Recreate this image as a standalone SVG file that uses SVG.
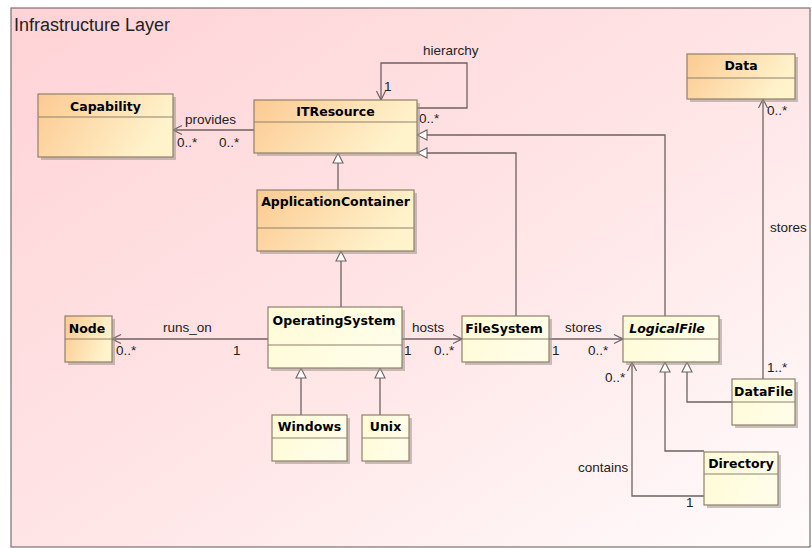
<svg xmlns="http://www.w3.org/2000/svg" width="812" height="548" viewBox="0 0 812 548">
  <defs>
    <linearGradient id="bg" x1="0" y1="0" x2="1" y2="1">
      <stop offset="0" stop-color="#ffd3d6"/>
      <stop offset="0.55" stop-color="#ffe6e7"/>
      <stop offset="1" stop-color="#fffcfc"/>
    </linearGradient>
    <linearGradient id="orange" x1="0" y1="0" x2="1" y2="0.3">
      <stop offset="0" stop-color="#fcca92"/>
      <stop offset="1" stop-color="#fff3cc"/>
    </linearGradient>
    <linearGradient id="pale" x1="0" y1="0" x2="1" y2="0.3">
      <stop offset="0" stop-color="#fffbd6"/>
      <stop offset="1" stop-color="#fffde8"/>
    </linearGradient>
    <marker id="open" viewBox="0 -6 11 12" refX="10" refY="0" markerWidth="11" markerHeight="12" markerUnits="userSpaceOnUse" orient="auto">
      <path d="M1,-4.5 L10,0 L1,4.5" fill="none" stroke="#6e6262" stroke-width="1.2"/>
    </marker>
    <marker id="tri" viewBox="0 -6 12 12" refX="11" refY="0" markerWidth="12" markerHeight="12" markerUnits="userSpaceOnUse" orient="auto">
      <path d="M1,-5 L11,0 L1,5 Z" fill="#ffffff" stroke="#6e6262" stroke-width="1.1"/>
    </marker>
  </defs>
  <style>
    .frame { fill: url(#bg); stroke: #7a7070; stroke-width: 1.2; }
    .title { font-family: "Liberation Sans", Arial, sans-serif; font-size: 18px; fill: #222; }
    .shadow { fill: #9d948c; opacity: 0.55; }
    .box-o { fill: url(#orange); stroke: #8f806c; stroke-width: 1.2; }
    .box-p { fill: url(#pale); stroke: #8f806c; stroke-width: 1.2; }
    .div { stroke: #8f806c; stroke-width: 1.2; }
    .name { font-family: "DejaVu Sans", Verdana, sans-serif; font-size: 12.5px; font-weight: bold; fill: #000; text-anchor: middle; }
    .abstract { font-style: italic; }
    .edge { fill: none; stroke: #6e6262; stroke-width: 1.3; }
    .lbl { font-family: "Liberation Sans", Arial, sans-serif; font-size: 13.5px; fill: #222; }
  </style>

  <!-- package frame -->
  <rect class="frame" x="11" y="8" width="799" height="539"/>
  <text class="title" x="14" y="31">Infrastructure Layer</text>

  <!-- connectors -->
  <g id="connectors">
    <path class="edge" d="M254,130 L173,130" marker-end="url(#open)"/>
    <path class="edge" d="M417,108 L467,108 L467,63 L381,63 L381,100" marker-end="url(#open)"/>
    <path class="edge" d="M338,190 L338,153" marker-end="url(#tri)"/>
    <path class="edge" d="M341,307 L341,251" marker-end="url(#tri)"/>
    <path class="edge" d="M301,415 L301,368" marker-end="url(#tri)"/>
    <path class="edge" d="M380,415 L380,368" marker-end="url(#tri)"/>
    <path class="edge" d="M268,339 L112,339" marker-end="url(#open)"/>
    <path class="edge" d="M402,339 L462,339" marker-end="url(#open)"/>
    <path class="edge" d="M549,339 L623,339" marker-end="url(#open)"/>
    <path class="edge" d="M516,316 L516,153 L417,153" marker-end="url(#tri)"/>
    <path class="edge" d="M665,316 L665,135 L417,135" marker-end="url(#tri)"/>
    <path class="edge" d="M732,402 L687,402 L687,362" marker-end="url(#tri)"/>
    <path class="edge" d="M704,451 L665,451 L665,362" marker-end="url(#tri)"/>
    <path class="edge" d="M704,496 L632,496 L632,362" marker-end="url(#open)"/>
    <path class="edge" d="M763,379 L763,99" marker-end="url(#open)"/>

    <text class="lbl" x="185" y="124">provides</text>
    <text class="lbl" x="177" y="147">0..*</text>
    <text class="lbl" x="219" y="147">0..*</text>
    <text class="lbl" x="423" y="55">hierarchy</text>
    <text class="lbl" x="384" y="91">1</text>
    <text class="lbl" x="419" y="123">0..*</text>
    <text class="lbl" x="163" y="332">runs_on</text>
    <text class="lbl" x="116" y="355">0..*</text>
    <text class="lbl" x="233" y="355">1</text>
    <text class="lbl" x="412" y="332">hosts</text>
    <text class="lbl" x="404" y="355">1</text>
    <text class="lbl" x="434" y="355">0..*</text>
    <text class="lbl" x="565" y="332">stores</text>
    <text class="lbl" x="552" y="355">1</text>
    <text class="lbl" x="588" y="355">0..*</text>
    <text class="lbl" x="605" y="382">0..*</text>
    <text class="lbl" x="578" y="472">contains</text>
    <text class="lbl" x="686" y="507">1</text>
    <text class="lbl" x="767" y="372">1..*</text>
    <text class="lbl" x="767" y="115">0..*</text>
    <text class="lbl" x="770" y="232">stores</text>
  </g>

  <!-- classes -->
  <g id="Capability">
    <rect class="shadow" x="41" y="97" width="135" height="63"/>
    <rect class="box-o" x="38" y="94" width="135" height="63"/>
    <line class="div" x1="38" y1="117" x2="173" y2="117"/>
    <text class="name" x="105.5" y="111">Capability</text>
  </g>
  <g id="ITResource">
    <rect class="shadow" x="257" y="103" width="163" height="53"/>
    <rect class="box-o" x="254" y="100" width="163" height="53"/>
    <line class="div" x1="254" y1="122" x2="417" y2="122"/>
    <text class="name" x="335.5" y="116">ITResource</text>
  </g>
  <g id="ApplicationContainer">
    <rect class="shadow" x="260" y="193" width="157" height="61"/>
    <rect class="box-o" x="257" y="190" width="157" height="61"/>
    <line class="div" x1="257" y1="228" x2="414" y2="228"/>
    <text class="name" x="335.5" y="206">ApplicationContainer</text>
  </g>
  <g id="Data">
    <rect class="shadow" x="690" y="57" width="108" height="45"/>
    <rect class="box-o" x="687" y="54" width="108" height="45"/>
    <line class="div" x1="687" y1="78" x2="795" y2="78"/>
    <text class="name" x="741" y="70">Data</text>
  </g>
  <g id="Node">
    <rect class="shadow" x="68" y="319" width="47" height="46"/>
    <rect class="box-o" x="65" y="316" width="47" height="46"/>
    <line class="div" x1="65" y1="339" x2="112" y2="339"/>
    <text class="name" x="87" y="333">Node</text>
  </g>
  <g id="OperatingSystem">
    <rect class="shadow" x="271" y="310" width="134" height="61"/>
    <rect class="box-p" x="268" y="307" width="134" height="61"/>
    <line class="div" x1="268" y1="345" x2="402" y2="345"/>
    <text class="name" x="334" y="325">OperatingSystem</text>
  </g>
  <g id="Windows">
    <rect class="shadow" x="275" y="418" width="75" height="46"/>
    <rect class="box-p" x="272" y="415" width="75" height="46"/>
    <line class="div" x1="272" y1="438" x2="347" y2="438"/>
    <text class="name" x="309.5" y="431">Windows</text>
  </g>
  <g id="Unix">
    <rect class="shadow" x="365" y="418" width="47" height="46"/>
    <rect class="box-p" x="362" y="415" width="47" height="46"/>
    <line class="div" x1="362" y1="438" x2="409" y2="438"/>
    <text class="name" x="385.5" y="431">Unix</text>
  </g>
  <g id="FileSystem">
    <rect class="shadow" x="465" y="319" width="87" height="46"/>
    <rect class="box-p" x="462" y="316" width="87" height="46"/>
    <line class="div" x1="462" y1="339" x2="549" y2="339"/>
    <text class="name" x="504" y="333">FileSystem</text>
  </g>
  <g id="LogicalFile">
    <rect class="shadow" x="626" y="319" width="96" height="46"/>
    <rect class="box-p" x="623" y="316" width="96" height="46"/>
    <line class="div" x1="623" y1="339" x2="719" y2="339"/>
    <text class="name abstract" x="667" y="333">LogicalFile</text>
  </g>
  <g id="DataFile">
    <rect class="shadow" x="735" y="382" width="63" height="46"/>
    <rect class="box-p" x="732" y="379" width="63" height="46"/>
    <line class="div" x1="732" y1="402" x2="795" y2="402"/>
    <text class="name" x="763.5" y="396">DataFile</text>
  </g>
  <g id="Directory">
    <rect class="shadow" x="707" y="455" width="74" height="53"/>
    <rect class="box-p" x="704" y="452" width="74" height="53"/>
    <line class="div" x1="704" y1="474" x2="778" y2="474"/>
    <text class="name" x="741" y="468">Directory</text>
  </g>
</svg>
